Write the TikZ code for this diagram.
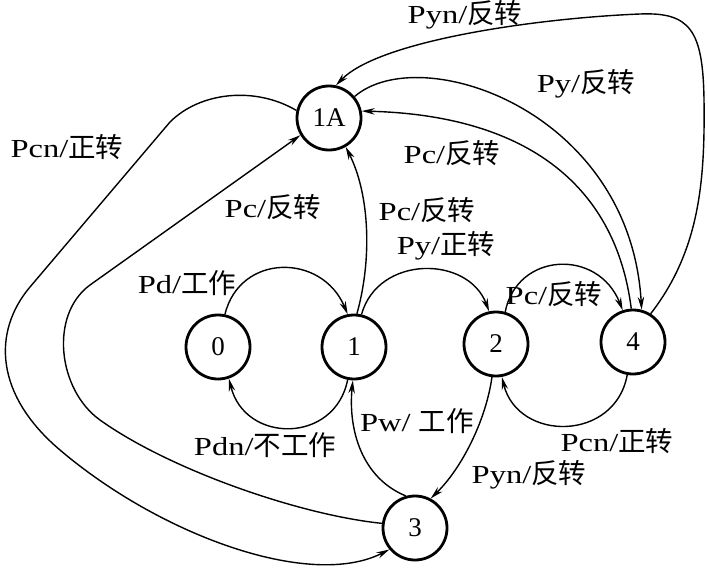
\documentclass[tikz,border=0pt]{standalone}
\usepackage{fontspec}
\setmainfont{Liberation Serif}
\newfontfamily\latw{Liberation Serif}[FakeStretch=1.25]
\newfontfamily\cjk{Noto Sans CJK SC}
\usetikzlibrary{arrows.meta}
\newcommand\elab[2]{{\latw #1}{\cjk\fontsize{27.5}{30}\selectfont #2}}
\begin{document}
\begin{tikzpicture}[x=1pt,y=-1pt,
  state/.style={circle,draw,line width=2.8pt,minimum size=64pt,inner sep=0pt,font=\fontsize{27}{27}\selectfont},
  edge/.style={line width=1.4pt,-{Stealth[length=13pt,width=6.5pt]}},
  elabel/.style={inner sep=0pt,font=\fontsize{26}{30}\selectfont}]
\fill[white] (0,0) rectangle (708,575);
\useasboundingbox (0,0) rectangle (708,575);

\node[state] (n1A) at (329,118) {1A};
\node[state] (n0) at (218,347) {0};
\node[state] (n1) at (354,347) {1};
\node[state] (n2) at (496,344) {2};
\node[state] (n4) at (633,342) {4};
\node[state] (n3) at (415,528) {3};

\draw[edge] (n0.78) .. controls (240,253) and (322,253) .. (n1.101);
\draw[edge] (n1.259) .. controls (335,444) and (245,444) .. (n0.289);
\draw[edge] (n1.85) .. controls (372,260) and (370,195) .. (n1A.300);
\draw[edge] (n1.77) .. controls (378,255) and (468,255) .. (n2.102);
\draw[edge] (n2.74) .. controls (517,252) and (598,248) .. (n4.108);
\draw[edge] (n4.260) .. controls (615,442) and (518,442) .. (n2.280);
\draw[edge] (n2.263) .. controls (486,420) and (462,468) .. (n3.62);
\draw[edge] (n3.106) .. controls (362,478) and (348,430) .. (n1.268);
\draw[edge] (n3.172) .. controls (300,515) and (170,470) .. (100,420)
   .. controls (58,390) and (49,315) .. (90,285) -- (n1A.211);
\draw[edge] (n1A.167) .. controls (255,86) and (200,92) .. (170,122) -- (30,287)
   .. controls (-8,332) and (-5,395) .. (60,450)
   .. controls (160,535) and (310,590) .. (n3.220);
\draw[edge] (n4.93) .. controls (615,180) and (520,115) .. (n1A.12);
\draw[edge] (n1A.40) .. controls (420,40) and (630,110) .. (n4.75);
\draw[edge] (n4.58) .. controls (700,250) and (705,180) .. (704,100)
   .. controls (703,30) and (690,12) .. (640,14)
   .. controls (540,18) and (380,40) .. (n1A.78);

\node[elabel] (l1) at (465,15) {\elab{Pyn/}{反转}};
\node[elabel] (l2) at (586,84) {\elab{Py/}{反转}};
\node[elabel] (l3) at (452,153) {\elab{Pc/}{反转}};
\node[elabel] (l4) at (427,210) {\elab{Pc/}{反转}};
\node[elabel] (l5) at (446,246) {\elab{Py/}{正转}};
\node[elabel] (l6) at (67,147) {\elab{Pcn/}{正转}};
\node[elabel] (l7) at (273,207) {\elab{Pc/}{反转}};
\node[elabel] (l8) at (187,283) {\elab{Pd/}{工作}};
\node[elabel] (l9) at (554,294) {\elab{Pc/}{反转}};
\node[elabel] (l10) at (265,445) {\elab{Pdn/}{不工作}};
\node[elabel] (l11) at (417,421) {\elab{Pw/ }{工作}};
\node[elabel] (l12) at (617,441) {\elab{Pcn/}{正转}};
\node[elabel] (l13) at (529,475) {\elab{Pyn/}{反转}};
\end{tikzpicture}
\end{document}
